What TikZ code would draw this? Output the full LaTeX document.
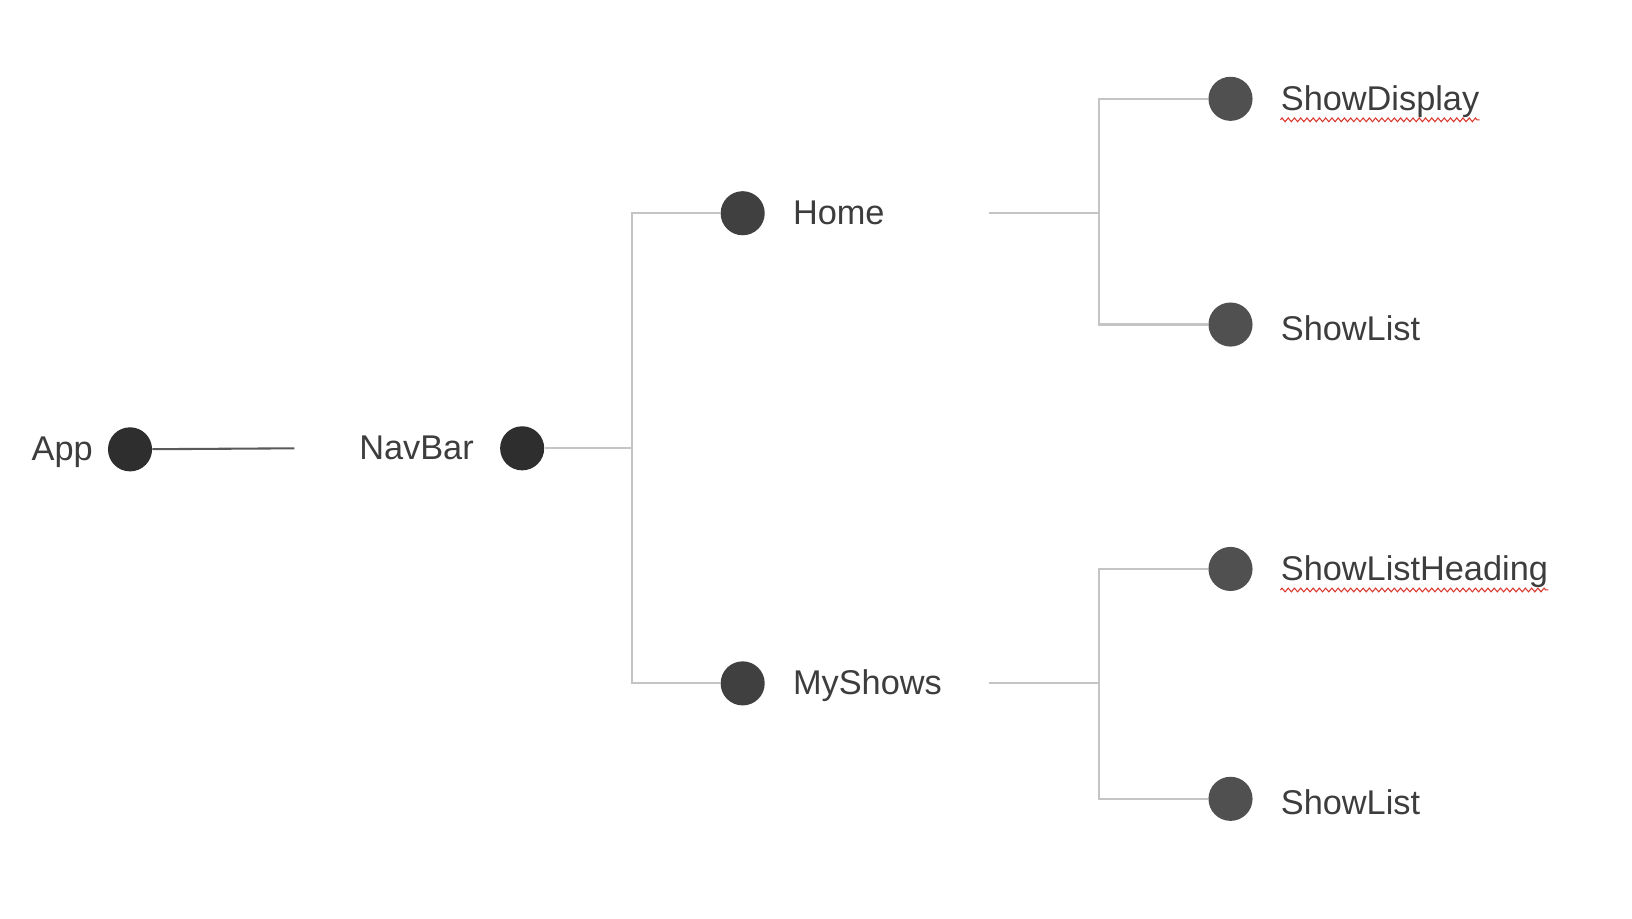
\documentclass[tikz,border=0pt]{standalone}
\usepackage{fontspec}
\setmainfont{Liberation Sans}
\usetikzlibrary{decorations.pathmorphing}
\definecolor{txtgray}{HTML}{3D3D3D}
\definecolor{linegray}{HTML}{C4C4C4}
\definecolor{dotA}{HTML}{2E2E2E}
\definecolor{dotB}{HTML}{404040}
\definecolor{dotC}{HTML}{505050}
\definecolor{spellred}{HTML}{D9352B}
\tikzset{
	dot/.style={circle, inner sep=0pt, minimum size=21.2pt},
	txt/.style={anchor=base west, inner sep=0pt, text=txtgray,
		font=\fontsize{16.5}{20}\selectfont},
	link/.style={draw=linegray, line width=1pt},
	applink/.style={draw=black!65, line width=1pt},
	squiggle/.style={draw=spellred, line width=0.5pt, decorate,
		decoration={zigzag, segment length=3pt, amplitude=0.9pt}}
}
\newcommand{\spell}[1]{\draw[squiggle] ([yshift=-4.6pt]#1.base west) -- ([yshift=-4.6pt]#1.base east)}

\begin{document}
\begin{tikzpicture}[x=0.5pt,y=-0.5pt]
\useasboundingbox (0,0) rectangle (1569,883);

% dots
\node[dot,fill=dotA] (app) at (125,432) {};
\node[dot,fill=dotA] (navbar) at (502,431) {};
\node[dot,fill=dotB] (home) at (714,205) {};
\node[dot,fill=dotB] (myshows) at (714,657) {};
\node[dot,fill=dotC] (showdisplay) at (1183,95) {};
\node[dot,fill=dotC] (showlistA) at (1183,312) {};
\node[dot,fill=dotC] (heading) at (1183,547) {};
\node[dot,fill=dotC] (showlistB) at (1183,768) {};

% texts
\node[txt] (appT) at (30,443) {App};
\node[txt] (navbarT) at (345,442) {NavBar};
\node[txt] (homeT) at (762,216) {Home};
\node[txt] (myshowsT) at (762,668) {MyShows};
\node[txt] (showdisplayT) at (1231,106) {ShowDisplay};
\node[txt] (showlistAT) at (1231,327) {ShowList};
\node[txt] (headingT) at (1231,558) {ShowListHeading};
\node[txt] (showlistBT) at (1231,783) {ShowList};

\spell{showdisplayT};
\spell{headingT};

% connectors
\coordinate (appEnd) at (283,431);
\coordinate (forkNav) at (608,431);
\coordinate (homeOut) at (951,205);
\coordinate (forkHome) at (1057,205);
\coordinate (myshowsOut) at (951,657);
\coordinate (forkMy) at (1057,657);

\draw[applink] (app) -- (appEnd);
\draw[link] (navbar) -- (forkNav);
\draw[link] (forkNav) |- (home);
\draw[link] (forkNav) |- (myshows);
\draw[link] (homeOut) -- (forkHome);
\draw[link] (forkHome) |- (showdisplay);
\draw[link] (forkHome) |- (showlistA);
\draw[link] (myshowsOut) -- (forkMy);
\draw[link] (forkMy) |- (heading);
\draw[link] (forkMy) |- (showlistB);

\end{tikzpicture}
\end{document}
